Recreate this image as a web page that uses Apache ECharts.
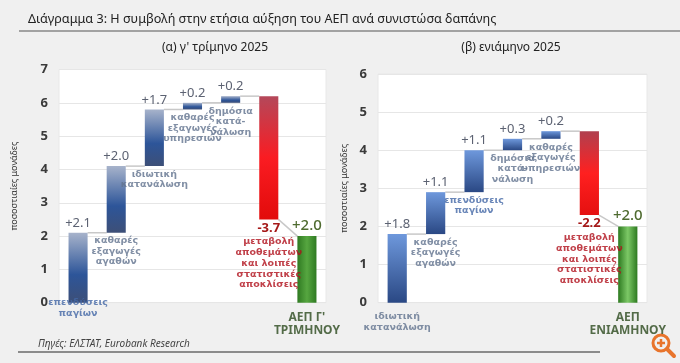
<!DOCTYPE html>
<html>
<head>
<meta charset="utf-8">
<script src="https://cdn.jsdelivr.net/npm/echarts/dist/echarts.min.js"></script>
<style>
html,body{margin:0;padding:0;background:#f0f0f0;}
#chart{width:680px;height:363px;}
</style>
</head>
<body>
<div id="chart"></div>
<script>
// ---- data ----
const titleText = 'Διάγραμμα 3: Η συμβολή στην ετήσια αύξηση του ΑΕΠ ανά συνιστώσα δαπάνης';
const subtitleA = '(α) γ\' τρίμηνο 2025';
const subtitleB = '(β) ενιάμηνο 2025';
const sourceText = 'Πηγές: ΕΛΣΤΑΤ, Eurobank Research';
const yAxisName = 'ποσοστιαίες μονάδες';

const categoriesA = ['επενδύσεις\nπαγίων', 'καθαρές\nεξαγωγές\nαγαθών', 'ιδιωτική\nκατανάλωση', 'καθαρές\nεξαγωγές\nυπηρεσιών', 'δημόσια\nκατά-\nνάλωση', 'μεταβολή\nαποθεμάτων\nκαι λοιπές\nστατιστικές\nαποκλίσεις', 'ΑΕΠ Γ\'\nΤΡΙΜΗΝΟΥ'];
const valuesA = [2.1, 2.0, 1.7, 0.2, 0.2, -3.7, 2.0];
const yMaxA = 7;

const categoriesB = ['ιδιωτική\nκατανάλωση', 'καθαρές\nεξαγωγές\nαγαθών', 'επενδύσεις\nπαγίων', 'δημόσια\nκατά-\nνάλωση', 'καθαρές\nεξαγωγές\nυπηρεσιών', 'μεταβολή\nαποθεμάτων\nκαι λοιπές\nστατιστικές\nαποκλίσεις', 'ΑΕΠ\nΕΝΙΑΜΗΝΟΥ'];
const valuesB = [1.8, 1.1, 1.1, 0.3, 0.2, -2.2, 2.0];
const yMaxB = 6;

// ---- styles ----
const blueA = {type:'linear',x:0,y:0,x2:0,y2:1,colorStops:[{offset:0,color:'#a7b3cb'},{offset:0.6,color:'#2d5599'},{offset:1,color:'#3d4f77'}]};
const blueB = {type:'linear',x:0,y:0,x2:0,y2:1,colorStops:[{offset:0,color:'#6e98dc'},{offset:1,color:'#2a4884'}]};
const redA = {type:'linear',x:0,y:0,x2:0,y2:1,colorStops:[{offset:0,color:'#b4485a'},{offset:0.5,color:'#fa1c22'},{offset:1,color:'#e20b0b'}]};
const redB = {type:'linear',x:0,y:0,x2:0,y2:1,colorStops:[{offset:0,color:'#b0404f'},{offset:0.5,color:'#ff2020'},{offset:1,color:'#e51010'}]};
const greenA = {type:'linear',x:0,y:0,x2:1,y2:0,colorStops:[{offset:0,color:'#2f7a22'},{offset:0.5,color:'#56a640'},{offset:1,color:'#2f7a22'}]};
const greenB = {type:'linear',x:0,y:0,x2:1,y2:0,colorStops:[{offset:0,color:'#2d7a20'},{offset:0.5,color:'#7cc866'},{offset:1,color:'#2d7a20'}]};

const catFont = 'DejaVu Sans';
const numFont = 'Noto Sans';

function buildPanel(cats, vals, idx, colors) {
  const n = vals.length;
  const base = [], height = [], starts = [], ends = [];
  let cum = 0;
  for (let i = 0; i < n; i++) {
    if (i < n - 1) {
      const s = cum, e = cum + vals[i];
      starts.push(s); ends.push(e);
      base.push(Math.min(s, e)); height.push(Math.abs(vals[i]));
      cum = e;
    } else {
      starts.push(0); ends.push(vals[i]);
      base.push(0); height.push(vals[i]);
    }
  }
  const fmt = v => (v > 0 ? '+' : '') + v.toFixed(1);
  const barData = height.map((h, i) => {
    const isTotal = i === n - 1;
    const neg = vals[i] < 0;
    return {
      value: h,
      itemStyle: {color: isTotal ? colors.green : (neg ? colors.red : colors.blue)},
      label: {
        show: true,
        position: neg ? 'bottom' : 'top',
        distance: neg ? 2 : 3,
        formatter: fmt(vals[i]),
        fontFamily: numFont,
        fontSize: isTotal ? 15 : (neg ? 13 : 13),
        fontWeight: neg ? 'bold' : (isTotal ? 500 : 'normal'),
        color: isTotal ? '#4f6b30' : (neg ? '#a51818' : '#5c6272')
      }
    };
  });
  const connectors = [];
  for (let i = 0; i < n - 1; i++) {
    connectors.push([i, ends[i], (i + 1 < n - 1) ? starts[i + 1] : ends[n - 1]]);
  }
  const nameData = cats.map((c, i) => {
    const isTotal = i === n - 1;
    const neg = vals[i] < 0;
    let color = '#62738e', size = 9.5, lh = 10.5, off = 0, weight = 'bold', fam = catFont;
    if (neg) { color = '#b0101c'; size = 9.5; lh = 10.8; off = 14; }
    if (isTotal) { color = '#2c4a1e'; size = 12; lh = 13.5; off = 5; fam = numFont; }
    if (i === colors.blueLabelIdx) color = '#4468a6';
    if (i === 0 && !isTotal && colors.firstOff !== undefined) off = colors.firstOff;
    return {
      value: [i, base[i]],
      label: {
        show: true, position: 'bottom', distance: 3, offset: [0, off],
        formatter: c, color: color, fontSize: size, lineHeight: lh,
        fontWeight: weight, fontFamily: fam, align: 'center'
      }
    };
  });
  return [
    {type:'bar', xAxisIndex: idx, yAxisIndex: idx, stack: 's' + idx, barWidth: '50%',
     data: base, itemStyle: {color: 'rgba(0,0,0,0)'}, silent: true, z: 2},
    {type:'bar', xAxisIndex: idx, yAxisIndex: idx, stack: 's' + idx, barWidth: '50%',
     data: barData, z: 3},
    {type:'custom', xAxisIndex: idx, yAxisIndex: idx, data: connectors, z: 2,
     encode: {x: 0, y: [1, 2]},
     renderItem: function (params, api) {
       const i = api.value(0);
       const p0 = api.coord([i, api.value(1)]);
       const p1 = api.coord([i + 1, api.value(2)]);
       const hw = api.size([1, 0])[0] * 0.25;
       return {type: 'line', shape: {x1: p0[0] + hw, y1: p0[1], x2: p1[0] - hw, y2: p1[1]},
               style: {stroke: '#c8c8c8', lineWidth: 1.5}};
     }},
    {type:'scatter', xAxisIndex: idx, yAxisIndex: idx, symbolSize: 0, data: nameData, z: 4, silent: true}
  ];
}

function yAxis(idx, max, gap) {
  return {
    type: 'value', gridIndex: idx, min: 0, max: max, interval: 1,
    name: yAxisName, nameLocation: 'middle', nameGap: gap, nameRotate: 90,
    nameTextStyle: {fontFamily: numFont, fontSize: 9, color: '#333'},
    axisLine: {show: false}, axisTick: {show: false},
    axisLabel: {margin: 11, fontFamily: numFont, fontSize: 13, fontWeight: 'bold', color: '#3a3a3a'},
    splitLine: {lineStyle: {color: '#e6e6e6', width: 1}}
  };
}
function xAxis(idx, cats) {
  return {type: 'category', gridIndex: idx, data: cats.map((c, i) => i),
          axisLine: {show: false}, axisTick: {show: false}, axisLabel: {show: false},
          splitLine: {show: false}};
}

const chart = echarts.init(document.getElementById('chart'));
chart.setOption({
  backgroundColor: '#f0f0f0',
  animation: false,
  grid: [
    {left: 59, right: 354, top: 69.5, bottom: 60.3, show: true, backgroundColor: '#ffffff', borderColor: '#e8e8e8', borderWidth: 1},
    {left: 378, right: 33, top: 74, bottom: 60.3, show: true, backgroundColor: '#ffffff', borderColor: '#e8e8e8', borderWidth: 1}
  ],
  xAxis: [xAxis(0, categoriesA), xAxis(1, categoriesB)],
  yAxis: [yAxis(0, yMaxA, 40), yAxis(1, yMaxB, 29)],
  series: [].concat(
    buildPanel(categoriesA, valuesA, 0, {blue: blueA, red: redA, green: greenA, blueLabelIdx: 0, firstOff: -8}),
    buildPanel(categoriesB, valuesB, 1, {blue: blueB, red: redB, green: greenB, blueLabelIdx: 2, firstOff: 6})
  ),
  graphic: [
    {type: 'text', left: 28, top: 13, style: {text: titleText, font: '12.6px "Noto Sans"', fill: '#222'}},
    {type: 'line', shape: {x1: 19, y1: 31, x2: 680, y2: 31}, style: {stroke: '#555', lineWidth: 1.2}},
    {type: 'text', x: 215, y: 48, style: {text: subtitleA, font: '12px "Noto Sans"', fill: '#222', textAlign: 'center', textVerticalAlign: 'middle'}},
    {type: 'text', x: 511, y: 48, style: {text: subtitleB, font: '12px "Noto Sans"', fill: '#222', textAlign: 'center', textVerticalAlign: 'middle'}},
    {type: 'text', x: 38, y: 344, style: {text: sourceText, font: 'italic 10px "Noto Sans"', fill: '#444', textVerticalAlign: 'middle'}},
    {type: 'line', shape: {x1: 18, y1: 352, x2: 600, y2: 352}, style: {stroke: '#6a6a6a', lineWidth: 1.5}},
    {type: 'circle', shape: {cx: 661, cy: 343, r: 8}, style: {fill: 'none', stroke: '#e8742c', lineWidth: 3}},
    {type: 'line', shape: {x1: 667, y1: 349, x2: 674, y2: 356}, style: {stroke: '#e8742c', lineWidth: 4, lineCap: 'round'}},
    {type: 'line', shape: {x1: 657, y1: 343, x2: 665, y2: 343}, style: {stroke: '#e8742c', lineWidth: 2.5}},
    {type: 'line', shape: {x1: 661, y1: 339, x2: 661, y2: 347}, style: {stroke: '#e8742c', lineWidth: 2.5}}
  ]
});
</script>
</body>
</html>
